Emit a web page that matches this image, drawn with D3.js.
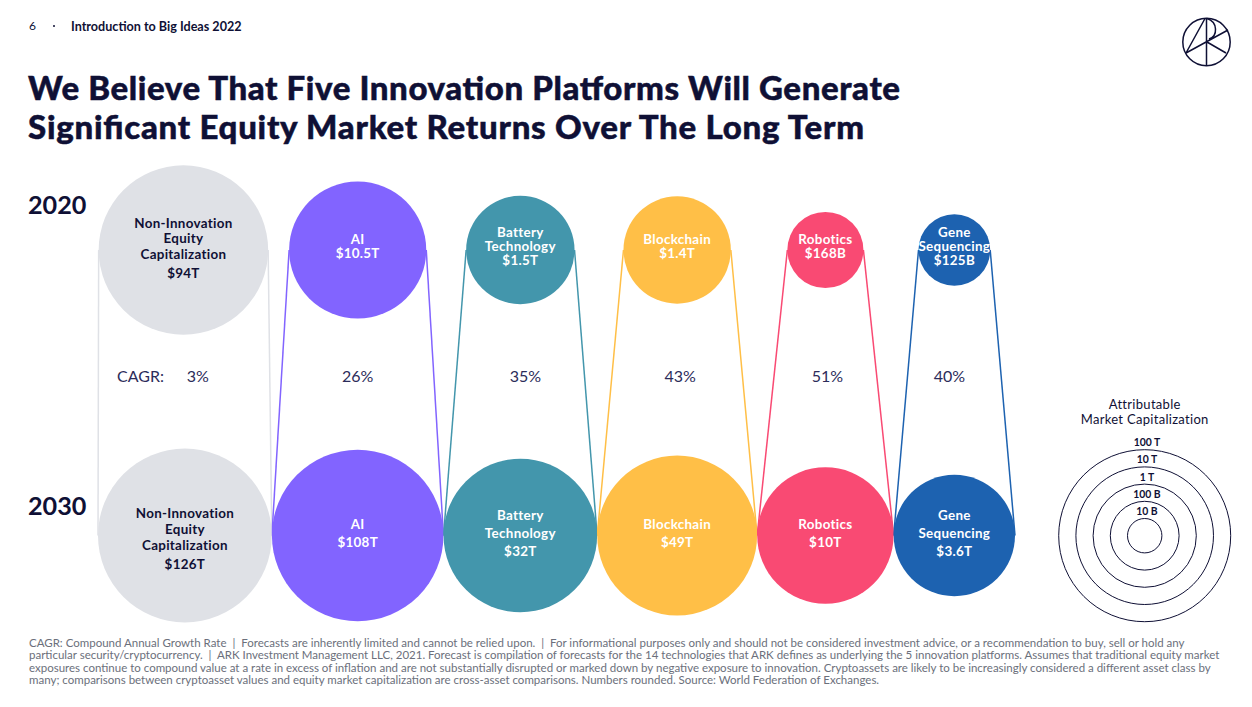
<!DOCTYPE html>
<html>
<head>
<meta charset="utf-8">
<script src="https://cdn.jsdelivr.net/npm/d3@7"></script>
<style>
  body { margin: 0; background: #fff; }
  text { font-family: Lato, sans-serif; white-space: pre; }
</style>
</head>
<body>
<svg id="chart" width="1252" height="707"></svg>
<script>
const years = ['2020', '2030'];
const platforms = ['Non-Innovation', 'AI', 'Battery', 'Blockchain', 'Robotics', 'Gene'];
const nameLines = [
  ['Non-Innovation', 'Equity', 'Capitalization'],
  ['AI'],
  ['Battery', 'Technology'],
  ['Blockchain'],
  ['Robotics'],
  ['Gene', 'Sequencing']
];
const values2020 = [94e12, 10.5e12, 1.5e12, 1.4e12, 168e9, 125e9];
const values2030 = [126e12, 108e12, 32e12, 49e12, 10e12, 3.6e12];
const labels2020 = ['$94T', '$10.5T', '$1.5T', '$1.4T', '$168B', '$125B'];
const labels2030 = ['$126T', '$108T', '$32T', '$49T', '$10T', '$3.6T'];
const cagr = ['3%', '26%', '35%', '43%', '51%', '40%'];
const legendValues = [1e14, 1e13, 1e12, 1e11, 1e10];
const legendLabels = ['100 T', '10 T', '1 T', '100 B', '10 B'];
const colors = ['#dfe1e6', '#8264ff', '#4396ac', '#ffbf47', '#f94a73', '#1d62b0'];
const footnotes = [
  'CAGR: Compound Annual Growth Rate  |  Forecasts are inherently limited and cannot be relied upon.  |  For informational purposes only and should not be considered investment advice, or a recommendation to buy, sell or hold any',
  'particular security/cryptocurrency.  |  ARK Investment Management LLC, 2021. Forecast is compilation of forecasts for the 14 technologies that ARK defines as underlying the 5 innovation platforms. Assumes that traditional equity market',
  'exposures continue to compound value at a rate in excess of inflation and are not substantially disrupted or marked down by negative exposure to innovation. Cryptoassets are likely to be increasingly considered a different asset class by',
  'many; comparisons between cryptoasset values and equity market capitalization are cross-asset comparisons. Numbers rounded. Source: World Federation of Exchanges.'
];

const ink = '#0f1035';
const svg = d3.select('#chart');

// circle area is log scaled, 17px of radius per decade
const rScale = d3.scaleLog().domain([1e9, 1e14]).range([0.2, 85.2]);
const legendR = rScale.copy().range([0, 86]);
const yScale = d3.scalePoint().domain(years).range([250, 535.5]);
const color = d3.scaleOrdinal().domain(platforms).range(colors);

// columns come from packing the 2030 circles side by side
const chartLeft = 98;
const packGap = 0.1;
let cursor = chartLeft;
const columns = values2030.map(function (v) {
  const r = rScale(v);
  const cx = cursor + r;
  cursor += 2 * r + packGap;
  return cx;
});

const rows = platforms.map(function (p, i) {
  return {
    platform: p,
    lines: nameLines[i],
    cx2020: columns[i] + (i === 0 ? -1.5 : 0),
    cx2030: columns[i],
    r2020: rScale(values2020[i]),
    r2030: rScale(values2030[i]),
    label2020: labels2020[i],
    label2030: labels2030[i],
    cagr: cagr[i]
  };
});

// header
svg.append('text').attr('x', 29).attr('y', 30).attr('font-size', 12).attr('fill', ink).text('6');
svg.append('circle').attr('cx', 54).attr('cy', 26).attr('r', 1).attr('fill', ink);
svg.append('text').attr('x', 71).attr('y', 31).attr('font-size', 12.6).attr('font-weight', 700)
  .attr('fill', ink).text('Introduction to Big Ideas 2022');

// logo
const logo = svg.append('g').attr('fill', 'none').attr('stroke', ink).attr('stroke-width', 1.5);
logo.append('circle').attr('cx', 1206.5).attr('cy', 42).attr('r', 23.7);
logo.append('path').attr('d', 'M1206.5 18.3V65.7M1205 18.5L1186 53M1228 30L1186 53M1207 42L1226 53M1207 18.5C1218 22 1218 36 1209 39');

// title
const titleWidths = [872, 836];
svg.selectAll('.title').data([
  'We Believe That Five Innovation Platforms Will Generate',
  'Significant Equity Market Returns Over The Long Term'
]).enter().append('text')
  .attr('class', 'title')
  .attr('x', 28)
  .attr('y', function (d, i) { return 99.5 + i * 39; })
  .attr('font-size', 33)
  .attr('font-weight', 900)
  .attr('textLength', function (d, i) { return titleWidths[i]; })
  .attr('lengthAdjust', 'spacing')
  .attr('stroke', ink)
  .attr('stroke-width', 0.5)
  .attr('fill', ink)
  .text(function (d) { return d; });

// year labels
svg.selectAll('.year').data(years).enter().append('text')
  .attr('class', 'year')
  .attr('x', 28)
  .attr('y', function (d, i) { return i === 0 ? 214 : 515; })
  .attr('font-size', 25.2)
  .attr('font-weight', 700)
  .attr('fill', ink)
  .text(function (d) { return d; });

// connectors sit behind the circles
const connectors = svg.append('g');
rows.forEach(function (d) {
  [-1, 1].forEach(function (side) {
    connectors.append('line')
      .attr('x1', d.cx2020 + side * d.r2020)
      .attr('y1', yScale('2020'))
      .attr('x2', d.cx2030 + side * d.r2030)
      .attr('y2', yScale('2030'))
      .attr('stroke', color(d.platform))
      .attr('stroke-width', 1.5);
  });
});

// circles
years.forEach(function (year) {
  svg.append('g').selectAll('circle').data(rows).enter().append('circle')
    .attr('cx', function (d) { return d['cx' + year]; })
    .attr('cy', yScale(year))
    .attr('r', function (d) { return d['r' + year]; })
    .attr('fill', function (d) { return color(d.platform); });
});

// labels inside the circles
const lineHeight = { 2020: 14, 2030: 18 };
const textShift = { 2020: -3.5, 2030: -2 };
years.forEach(function (year) {
  rows.forEach(function (d, i) {
    const isBase = i === 0;
    const lh = isBase ? 15.8 : lineHeight[year];
    const lines = d.lines.concat([d['label' + year]]);
    const shift = isBase ? (year === '2020' ? -1.5 : 3.5) : textShift[year];
    const extra = isBase ? 3.5 : 0;
    const top = yScale(year) + shift - (lines.length - 1) * lh / 2 - extra / 2;
    svg.append('g').selectAll('text').data(lines).enter().append('text')
      .attr('x', d['cx' + year])
      .attr('y', function (t, j) {
        return top + j * lh + (j === lines.length - 1 ? extra : 0) + 4.5;
      })
      .attr('text-anchor', 'middle')
      .attr('font-size', 13.4)
      .attr('font-weight', 700)
      .attr('letter-spacing', 0.3)
      .attr('fill', isBase ? ink : '#fff')
      .text(function (t) { return t; });
  });
});

// CAGR row
const cagrShift = [13, 0, 5, 3, 2, -5];
svg.append('text').attr('x', 117).attr('y', 382).attr('font-size', 16).attr('fill', '#2c2c5a').text('CAGR:');
svg.append('g').selectAll('text').data(rows).enter().append('text')
  .attr('x', function (d, i) { return d.cx2030 + cagrShift[i]; })
  .attr('y', 382)
  .attr('text-anchor', 'middle')
  .attr('font-size', 16)
  .attr('fill', '#2c2c5a')
  .text(function (d) { return d.cagr; });

// size legend
const legendX = 1144.7;
const legendY = 535.7;
svg.selectAll('.legend-title').data(['Attributable', 'Market Capitalization']).enter().append('text')
  .attr('class', 'legend-title')
  .attr('x', legendX)
  .attr('y', function (d, i) { return 408.5 + i * 15; })
  .attr('text-anchor', 'middle')
  .attr('font-size', 13)
  .attr('letter-spacing', 0.3)
  .attr('fill', ink)
  .text(function (d) { return d; });
const legend = svg.append('g').selectAll('g').data(legendValues).enter().append('g');
legend.append('circle')
  .attr('cx', legendX)
  .attr('cy', legendY)
  .attr('r', function (d) { return legendR(d); })
  .attr('fill', 'none')
  .attr('stroke', ink)
  .attr('stroke-width', 1);
legend.append('text')
  .attr('x', legendX + 2.3)
  .attr('y', function (d) { return legendY - legendR(d) - 3.5; })
  .attr('text-anchor', 'middle')
  .attr('font-size', 10.4)
  .attr('font-weight', 700)
  .attr('fill', ink)
  .text(function (d, i) { return legendLabels[i]; });

// footnote
svg.selectAll('.foot').data(footnotes).enter().append('text')
  .attr('class', 'foot')
  .attr('x', 29)
  .attr('y', function (d, i) { return 646.5 + i * 12.6; })
  .attr('font-size', 11.5)
  .attr('fill', '#6b6f7b')
  .text(function (d) { return d; });
</script>
</body>
</html>
